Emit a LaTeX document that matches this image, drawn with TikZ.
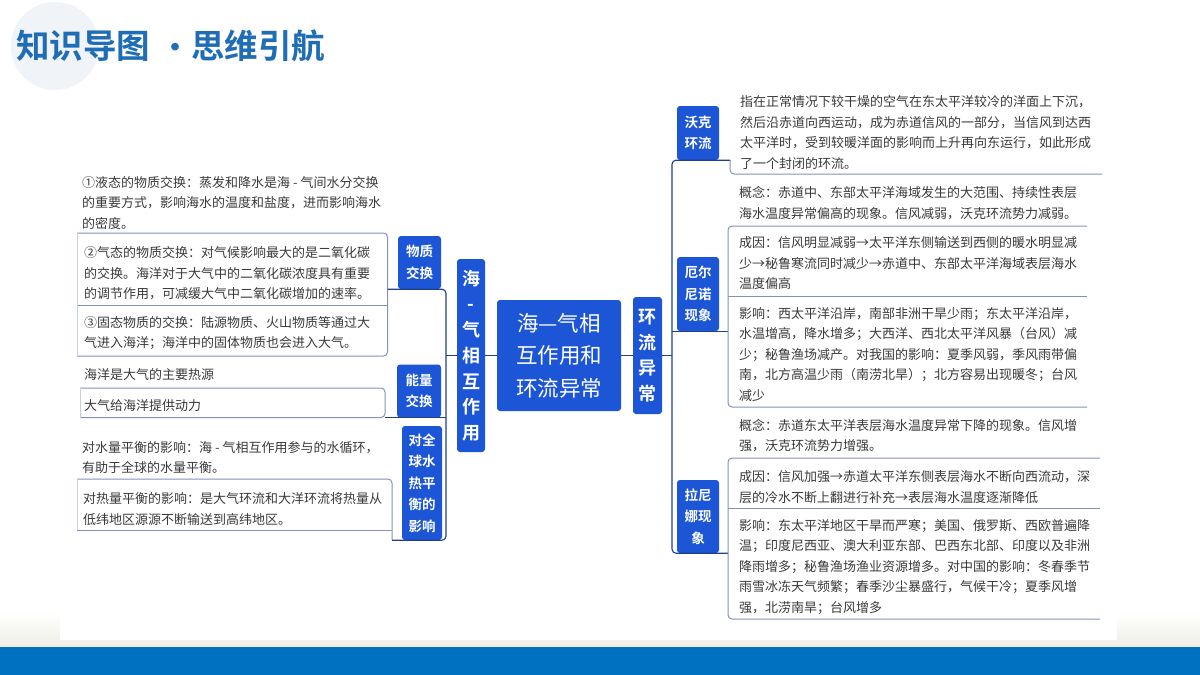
\documentclass[tikz,border=0pt]{standalone}
\usepackage{fontspec}
\usepackage{xcolor}
\usetikzlibrary{positioning}
\newfontfamily\cjk[BoldFont={Noto Sans CJK SC Bold}]{Noto Sans CJK SC}
\definecolor{mapblue}{HTML}{1C56D6}
\definecolor{titleblue}{HTML}{1F6EB5}
\definecolor{barblue}{HTML}{0070C0}
\definecolor{navy}{HTML}{213F8C}
\definecolor{leafline}{HTML}{8392BA}
\definecolor{leaftext}{HTML}{3A3A3A}
\definecolor{paleround}{HTML}{F0F3F8}
\definecolor{floor}{HTML}{EDEDE6}
\tikzset{
  hub/.style = {fill=mapblue, rounded corners=3, text=white, font=\cjk\fontsize{21.5}{32.5}\selectfont, align=center, inner sep=0, minimum width=124, minimum height=111},
  trunk/.style = {fill=mapblue, rounded corners=3, text=white, font=\cjk\bfseries\fontsize{18}{25.7}\selectfont, align=center, inner sep=0},
  topic/.style = {fill=mapblue, rounded corners=3, text=white, font=\cjk\bfseries\fontsize{13.5}{21.5}\selectfont, align=center, inner sep=0, minimum width=42},
  leaf/.style = {anchor=west, text=leaftext, font=\cjk\fontsize{13}{20.5}\selectfont, align=left, inner sep=0},
  link/.style = {draw=navy, line width=1.1, rounded corners=4},
  uline/.style = {draw=leafline, line width=1, rounded corners=4},
  faint/.style = {draw=leafline!45, line width=0.8},
}

\begin{document}
\begin{tikzpicture}[x=1pt, y=-1pt]
  \useasboundingbox (0,0) rectangle (1200,675);
  % page
  \fill[white] (0,0) rectangle (1200,675);
  \fill[paleround] (55,46) circle (44);
  \shade[top color=white, bottom color=floor] (0,612) rectangle (1200,648);
  \fill[white] (60,600) rectangle (1117,640);
  \fill[barblue] (0,647) rectangle (1200,675);

  \node[anchor=west, inner sep=0, text=titleblue, font=\cjk\bfseries\fontsize{33.5}{40}\selectfont] (title1) at (16,46) {知识导图};
  \node[inner sep=0, text=titleblue, font=\cjk\bfseries\fontsize{30}{40}\selectfont] (tdot) at (175,51) {·};
  \node[anchor=west, inner sep=0, text=titleblue, font=\cjk\bfseries\fontsize{33.5}{40}\selectfont] (title2) at (191,46) {思维引航};

  % centre and first level
  \node[hub] (hub) at (559,355.5) {海—气相\\互作用和\\环流异常};
  \node[trunk, minimum width=28, minimum height=193] (hq) at (471,355.5) {海\\-\\气\\相\\互\\作\\用};
  \node[trunk, minimum width=29, minimum height=117] (hl) at (647.5,355.5) {环\\流\\异\\常};

  % second level
  \node[topic, minimum width=43, minimum height=53] (wz) at (419.5,262.5) {物质\\交换};
  \node[topic, minimum width=44, minimum height=53] (nl) at (419,391) {能量\\交换};
  \node[topic, minimum width=40, minimum height=114] (qq) at (422,483) {对全\\球水\\热平\\衡的\\影响};
  \node[topic, minimum height=54] (wk) at (698,133) {沃克\\环流};
  \node[topic, minimum height=74] (en) at (698,294) {厄尔\\尼诺\\现象};
  \node[topic, minimum height=73] (ln) at (698,516.5) {拉尼\\娜现\\象};

  % leaves, left
  \node[leaf] (w1) at (82,202.5) {①液态的物质交换：蒸发和降水是海 - 气间水分交换\\的重要方式，影响海水的温度和盐度，进而影响海水\\的密度。};
  \node[leaf] (w2) at (84,273.5) {②气态的物质交换：对气候影响最大的是二氧化碳\\的交换。海洋对于大气中的二氧化碳浓度具有重要\\的调节作用，可减缓大气中二氧化碳增加的速率。};
  \node[leaf] (w3) at (84,333) {③固态物质的交换：陆源物质、火山物质等通过大\\气进入海洋；海洋中的固体物质也会进入大气。};
  \node[leaf] (n1) at (84,375) {海洋是大气的主要热源};
  \node[leaf] (n2) at (84,406) {大气给海洋提供动力};
  \node[leaf] (q1) at (82,457.5) {对水量平衡的影响：海 - 气相互作用参与的水循环，\\有助于全球的水量平衡。};
  \node[leaf] (q2) at (83,509) {对热量平衡的影响：是大气环流和大洋环流将热量从\\低纬地区源源不断输送到高纬地区。};

  % leaves, right
  \node[leaf] (k1) at (740,132.5) {指在正常情况下较干燥的空气在东太平洋较冷的洋面上下沉，\\然后沿赤道向西运动，成为赤道信风的一部分，当信风到达西\\太平洋时，受到较暖洋面的影响而上升再向东运行，如此形成\\了一个封闭的环流。};
  \node[leaf] (e1) at (739,203) {概念：赤道中、东部太平洋海域发生的大范围、持续性表层\\海水温度异常偏高的现象。信风减弱，沃克环流势力减弱。};
  \node[leaf] (e2) at (739,263.5) {成因：信风明显减弱→太平洋东侧输送到西侧的暖水明显减\\少→秘鲁寒流同时减少→赤道中、东部太平洋海域表层海水\\温度偏高};
  \node[leaf] (e3) at (739,354.5) {影响：西太平洋沿岸，南部非洲干旱少雨；东太平洋沿岸，\\水温增高，降水增多；大西洋、西北太平洋风暴（台风）减\\少；秘鲁渔场减产。对我国的影响：夏季风弱，季风雨带偏\\南，北方高温少雨（南涝北旱）；北方容易出现暖冬；台风\\减少};
  \node[leaf] (l1) at (739,435.5) {概念：赤道东太平洋表层海水温度异常下降的现象。信风增\\强，沃克环流势力增强。};
  \node[leaf] (l2) at (739,487) {成因：信风加强→赤道太平洋东侧表层海水不断向西流动，深\\层的冷水不断上翻进行补充→表层海水温度逐渐降低};
  \node[leaf] (l3) at (739,567) {影响：东太平洋地区干旱而严寒；美国、俄罗斯、西欧普遍降\\温；印度尼西亚、澳大利亚东部、巴西东北部、印度以及非洲\\降雨增多；秘鲁渔场渔业资源增多。对中国的影响：冬春季节\\雨雪冰冻天气频繁；春季沙尘暴盛行，气候干冷；夏季风增\\强，北涝南旱；台风增多};

  % bracket lines and underline ends
  \coordinate (lbr) at (446,355.5);
  \coordinate (rbr) at (672,355.5);
  \coordinate (wzb) at (387.5,0);
  \coordinate (nlb) at (385,0);
  \coordinate (qqb) at (392,0);
  \coordinate (wkb) at (730,0);
  \coordinate (enb) at (728,0);
  \coordinate (lnb) at (728,0);
  \foreach \u/\x/\y in {w1u/77/233, w2u/77/305, w3u/77/356, n1u/80/388, n2u/80/417.5,
                        q1u/77/479, q2u/77/530, k1u/1102/174, e1u/1087/226, e2u/1087/296,
                        e3u/1087/407, l1u/1100/458, l2u/1100/508, l3u/1100/619}
    \coordinate (\u) at (\x,\y);

  % centre links
  \draw[link] (hub.west) -- (hq.east);
  \draw[link] (hub.east) -- (hl.west);
  \draw[link] (hq.west) -- (lbr);
  \draw[link] (hl.east) -- (rbr);

  % left side
  \draw[uline] (w1u) -- (w1u -| wzb) -- (w3u -| wzb) -- (w3u);
  \draw[uline] (w2u) -- (w2u -| wzb);
  \draw[uline] (n1u) -- (n1u -| nlb) -- (n2u -| nlb) -- (n2u);
  \draw[uline] (q1u) -- (q1u -| qqb) -- (qq.south -| qqb);
  \draw[uline] (q2u) -- (q2u -| qqb);
  \draw[faint] (w1u) -- (w3u);
  \draw[faint] (n1u) -- (n2u);
  \draw[faint] (q1u) -- (q2u);
  \draw[link] (wz.south -| wzb) -- (wz.south -| lbr) -- (qq.south -| lbr) -- (qq.south -| qqb);
  \draw[link] (nl.south -| nlb) -- (nl.south -| lbr);

  % right side
  \draw[link] (wk.south -| wkb) -- (wk.south -| rbr) -- (ln.south -| rbr) -- (ln.south -| lnb);
  \draw[link] (en.south -| rbr) -- (en.south -| enb);
  \draw[uline] (wk.south -| wkb) -- (k1u -| wkb) -- (k1u);
  \draw[uline] (e1u) -- (e1u -| enb) -- (e3u -| enb) -- (e3u);
  \draw[uline] (e2u) -- (e2u -| enb);
  \draw[uline] (l1u) -- (l1u -| lnb) -- (l3u -| lnb) -- (l3u);
  \draw[uline] (l2u) -- (l2u -| lnb);
\end{tikzpicture}
\end{document}
